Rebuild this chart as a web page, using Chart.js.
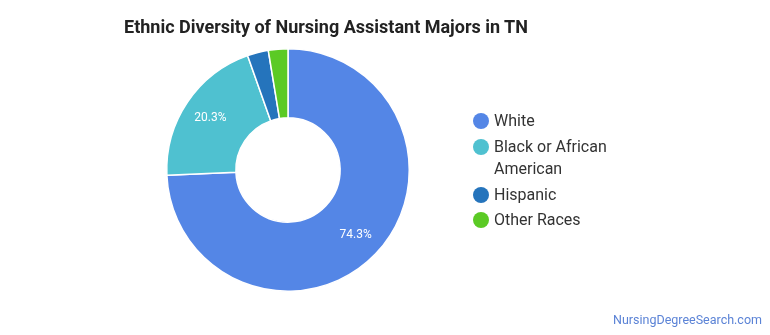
<!DOCTYPE html>
<html>
<head>
<meta charset="utf-8">
<script src="https://cdn.jsdelivr.net/npm/chart.js@4"></script>
<style>
  body { margin: 0; background: #fff; font-family: Roboto, sans-serif; }
  #wrap { position: relative; width: 770px; height: 335px; }
  #myChart { position: absolute; left: 0; top: 0; }
  #title { position: absolute; left: 124px; top: 16px; font-size: 18px; font-weight: bold; color: #222; }
  #legend { position: absolute; left: 472px; top: 110px; font-size: 16px; color: #333; }
  .item { position: relative; padding-left: 22px; line-height: 22.5px; margin-bottom: 3px; }
  .dot { position: absolute; left: 1px; top: 3px; width: 16px; height: 16px; border-radius: 50%; }
  #footer { position: absolute; right: 8px; top: 312px; font-size: 12.5px; color: #5b83d6; }
</style>
</head>
<body>
<div id="wrap">
  <canvas id="myChart" width="770" height="335"></canvas>
  <div id="title">Ethnic Diversity of Nursing Assistant Majors in TN</div>
  <div id="legend"></div>
  <div id="footer">NursingDegreeSearch.com</div>
</div>
<script>
const categories = ["White", "Black or African American", "Hispanic", "Other Races"];
const legendLines = [["White"], ["Black or African", "American"], ["Hispanic"], ["Other Races"]];
const shares = [74.3, 20.3, 2.8, 2.6];
const colors = ["#5486e6", "#4fc1d0", "#2574bc", "#5bca25"];

// percent labels on the larger slices
const sliceLabels = {
  id: 'sliceLabels',
  afterDatasetsDraw(chart) {
    const ctx = chart.ctx;
    const meta = chart.getDatasetMeta(0);
    ctx.save();
    ctx.font = '12px Roboto, sans-serif';
    ctx.fillStyle = '#fff';
    ctx.textAlign = 'center';
    ctx.textBaseline = 'middle';
    meta.data.forEach((arc, i) => {
      if (shares[i] < 5) return;
      const mid = (arc.startAngle + arc.endAngle) / 2;
      const r = arc.innerRadius + 0.6 * (arc.outerRadius - arc.innerRadius);
      ctx.fillText(shares[i].toFixed(1) + '%', arc.x + r * Math.cos(mid), arc.y + r * Math.sin(mid));
    });
    ctx.restore();
  }
};

const doughnutConfig = {
  type: 'doughnut',
  data: {
    labels: categories,
    datasets: [{
      data: shares,
      backgroundColor: colors,
      borderColor: '#fff',
      borderWidth: 1.5
    }]
  },
  options: {
    responsive: false,
    animation: false,
    cutout: '43%',
    layout: { padding: { left: 166, right: 360, top: 48, bottom: 43 } },
    plugins: {
      legend: { display: false },
      title: { display: false },
      tooltip: { enabled: false }
    }
  },
  plugins: [sliceLabels]
};

const myChart = new Chart(document.getElementById('myChart'), doughnutConfig);

const legendEl = document.getElementById('legend');
categories.forEach((c, i) => {
  const div = document.createElement('div');
  div.className = 'item';
  div.innerHTML = '<span class="dot" style="background:' + colors[i] + '"></span>' + legendLines[i].join('<br>');
  legendEl.appendChild(div);
});
</script>
</body>
</html>
